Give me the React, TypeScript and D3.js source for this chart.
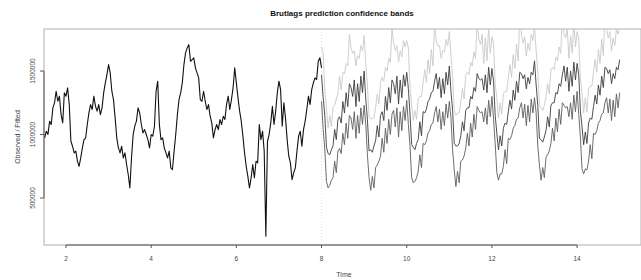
import { useEffect, useRef } from "react";
import * as d3 from "d3";

const title = "Brutlags prediction confidence bands";
const xLabel = "Time";
const yLabel = "Observed / Fitted";
const xTicks = [2, 4, 6, 8, 10, 12, 14];
const yTicks = [500000, 1000000, 1500000];

// samples per time unit, and where each part starts
const freq = 26;
const observedStart = 1.5;
const forecastStart = 8;

// observed series (thousands)
const observedK = [
  974, 1026, 1000, 1105, 1079, 1210, 1249, 1341, 1262, 1302,
  1157, 1092, 1328, 1302, 1367, 1236, 947, 908, 855, 869,
  790, 750, 816, 895, 960, 974, 1079, 1170, 1236, 1197,
  1302, 1223, 1184, 1236, 1157, 1210, 1328, 1407, 1472, 1551,
  1485, 1341, 1275, 1131, 974, 895, 855, 908, 816, 855,
  764, 685, 580, 816, 1000, 1066, 1105, 1210, 1170, 1079, 1013,
  1039, 1000, 960, 895, 1000, 987, 1065, 1341, 1420, 1079,
  960, 974, 895, 855, 816, 869, 737, 724, 869, 1000,
  1157, 1275, 1328, 1407, 1551, 1643, 1682, 1708, 1577, 1590,
  1604, 1525, 1485, 1446, 1275, 1262, 1341, 1262, 1197, 1236,
  1144, 1092, 974, 1039, 1079, 1039, 1118, 1079, 1144, 1118,
  1236, 1302, 1197, 1275, 1367, 1525, 1407, 1289, 1184,
  1105, 987, 855, 750, 672, 580, 659, 764, 659, 790,
  777, 1079, 960, 1026, 869, 199, 947, 1000, 1092, 1223,
  1079, 1184, 1328, 1420, 1354, 1065, 1249, 1131, 960, 829,
  777, 645, 698, 737, 869, 987, 1026, 908, 1039, 1105,
  1197, 1302, 1236, 1354, 1407, 1446, 1433, 1577, 1604, 1525,
];

// fitted / predicted series from t = 8 (thousands), one row per year
const fittedK = [
  1470, 1290, 1150, 900, 850, 840, 880, 910, 1040, 960, 1120, 1140, 1090, 1260, 1170, 1330, 1220, 1400, 1370, 1300, 1430, 1220, 1400, 1260, 1460, 1330,
  1500, 1280, 1120, 870, 880, 860, 910, 950, 1070, 980, 1150, 1180, 1110, 1300, 1190, 1370, 1250, 1430, 1400, 1320, 1460, 1240, 1430, 1290, 1470, 1380,
  1490, 1360, 1160, 920, 900, 880, 930, 960, 1100, 990, 1180, 1170, 1200, 1260, 1280, 1330, 1340, 1420, 1480, 1360, 1450, 1290, 1440, 1320, 1490, 1390,
  1540, 1340, 1190, 930, 910, 910, 930, 990, 1100, 1030, 1190, 1210, 1210, 1300, 1280, 1370, 1340, 1480, 1440, 1430, 1440, 1350, 1470, 1330, 1530, 1390,
  1520, 1420, 1150, 1010, 880, 990, 910, 1050, 1090, 1080, 1180, 1270, 1200, 1350, 1270, 1420, 1330, 1490, 1480, 1440, 1470, 1360, 1450, 1400, 1490, 1470,
  1580, 1390, 1230, 970, 960, 940, 980, 1030, 1140, 1060, 1230, 1250, 1250, 1330, 1320, 1400, 1380, 1470, 1540, 1420, 1530, 1340, 1500, 1380, 1570, 1430,
  1560, 1470, 1190, 1060, 920, 1020, 930, 1090, 1130, 1120, 1220, 1310, 1240, 1390, 1310, 1460, 1370, 1530, 1520, 1480, 1510, 1400, 1480, 1440, 1530, 1510,
  1590,
];

const upperK = [
  1690, 1640, 1350, 1210, 1050, 1150, 1060, 1220, 1230, 1280, 1320, 1460, 1350, 1490, 1480, 1560, 1540, 1790, 1680, 1640, 1660, 1540, 1620, 1600, 1700, 1660,
  1780, 1560, 1390, 1140, 1120, 1130, 1130, 1210, 1320, 1240, 1410, 1450, 1420, 1530, 1500, 1600, 1570, 1830, 1720, 1660, 1700, 1570, 1660, 1610, 1740, 1690,
  1740, 1680, 1380, 1230, 1110, 1190, 1120, 1280, 1300, 1300, 1410, 1510, 1410, 1590, 1480, 1670, 1540, 1870, 1730, 1700, 1700, 1600, 1660, 1650, 1750, 1700,
  1810, 1620, 1460, 1190, 1150, 1170, 1170, 1260, 1360, 1280, 1470, 1490, 1470, 1570, 1540, 1650, 1600, 1900, 1750, 1710, 1790, 1560, 1760, 1580, 1850, 1640,
  1770, 1720, 1400, 1290, 1130, 1250, 1160, 1320, 1340, 1340, 1450, 1550, 1450, 1630, 1520, 1710, 1580, 1920, 1790, 1720, 1770, 1620, 1720, 1660, 1790, 1740,
  1850, 1660, 1500, 1230, 1210, 1190, 1230, 1300, 1400, 1320, 1510, 1530, 1510, 1610, 1580, 1690, 1640, 1950, 1790, 1760, 1830, 1600, 1780, 1640, 1890, 1690,
  1810, 1760, 1440, 1330, 1170, 1290, 1180, 1360, 1380, 1380, 1490, 1590, 1490, 1670, 1560, 1750, 1620, 1970, 1830, 1760, 1810, 1660, 1760, 1700, 1830, 1790,
  1850,
];

const lowerK = [
  1260, 1040, 880, 630, 580, 600, 640, 660, 790, 700, 870, 890, 850, 1010, 920, 1090, 970, 1150, 1130, 1040, 1180, 970, 1150, 1010, 1210, 1080,
  1230, 1080, 840, 660, 560, 670, 580, 740, 760, 790, 830, 970, 860, 1050, 930, 1120, 1000, 1160, 1190, 1060, 1210, 980, 1180, 1030, 1220, 1110,
  1270, 1080, 910, 660, 620, 630, 660, 710, 840, 740, 930, 920, 950, 1010, 1030, 1080, 1090, 1170, 1220, 1100, 1200, 1040, 1180, 1070, 1240, 1130,
  1260, 1130, 880, 720, 590, 710, 620, 790, 800, 830, 890, 1010, 910, 1090, 980, 1160, 1040, 1220, 1190, 1170, 1180, 1100, 1210, 1080, 1270, 1140,
  1300, 1120, 930, 700, 640, 690, 690, 750, 880, 770, 970, 960, 990, 1050, 1070, 1120, 1130, 1210, 1250, 1130, 1240, 1070, 1230, 1100, 1280, 1170,
  1290, 1170, 910, 760, 640, 740, 660, 820, 840, 870, 930, 1050, 950, 1130, 1020, 1200, 1080, 1250, 1230, 1210, 1220, 1140, 1250, 1120, 1310, 1180,
  1340, 1160, 980, 730, 690, 730, 720, 790, 920, 810, 1010, 1000, 1030, 1090, 1110, 1160, 1170, 1250, 1290, 1170, 1280, 1110, 1270, 1140, 1320, 1210,
  1330,
];

const toPoints = (vals: number[], start: number) =>
  vals.map((v, i) => ({ t: start + i / freq, v: v * 1000 }));

export default function App() {
  const svgRef = useRef<SVGSVGElement>(null);

  useEffect(() => {
    if (!svgRef.current) return;
    const svg = d3.select(svgRef.current);
    svg.selectAll("*").remove();

    const box = { left: 44, right: 641, top: 29, bottom: 245 };
    const font = "'Liberation Sans', Arial, sans-serif";

    const x = d3.scaleLinear().domain([1.484, 15.5]).range([box.left, box.right]);
    const y = d3.scaleLinear().domain([130000, 1831000]).range([box.bottom, box.top]);

    svg.append("defs").append("clipPath").attr("id", "plotclip")
      .append("rect")
      .attr("x", box.left).attr("y", box.top)
      .attr("width", box.right - box.left).attr("height", box.bottom - box.top);

    // plot frame
    svg.append("rect")
      .attr("x", box.left).attr("y", box.top)
      .attr("width", box.right - box.left).attr("height", box.bottom - box.top)
      .attr("fill", "none").attr("stroke", "#b0b0b0").attr("stroke-width", 1);

    // start of prediction
    svg.append("line")
      .attr("x1", x(forecastStart)).attr("x2", x(forecastStart))
      .attr("y1", box.top).attr("y2", box.bottom)
      .attr("stroke", "#e2e2e2").attr("stroke-dasharray", "1,2");

    const line = d3.line<{ t: number; v: number }>()
      .x(d => x(d.t))
      .y(d => y(d.v));

    const g = svg.append("g").attr("clip-path", "url(#plotclip)");
    const series = [
      { data: toPoints(upperK, forecastStart), color: "#cacaca", w: 0.9 },
      { data: toPoints(lowerK, forecastStart), color: "#5e5e5e", w: 0.9 },
      { data: toPoints(fittedK, forecastStart), color: "#3c3c3c", w: 0.9 },
      { data: toPoints(observedK, observedStart), color: "#111", w: 1.1 },
    ];
    series.forEach(s => {
      g.append("path")
        .attr("d", line(s.data))
        .attr("fill", "none")
        .attr("stroke", s.color)
        .attr("stroke-width", s.w)
        .attr("stroke-linejoin", "round");
    });

    // x axis
    const xa = svg.append("g");
    xa.append("line")
      .attr("x1", x(xTicks[0])).attr("x2", x(xTicks[xTicks.length - 1]))
      .attr("y1", box.bottom).attr("y2", box.bottom)
      .attr("stroke", "#555");
    xTicks.forEach(t => {
      xa.append("line")
        .attr("x1", x(t)).attr("x2", x(t))
        .attr("y1", box.bottom).attr("y2", box.bottom + 3)
        .attr("stroke", "#555");
      xa.append("text")
        .attr("x", x(t)).attr("y", 261)
        .attr("text-anchor", "middle")
        .attr("font-family", font).attr("font-size", 6.5)
        .attr("fill", "#444")
        .text(t);
    });

    // y axis
    const ya = svg.append("g");
    ya.append("line")
      .attr("x1", box.left).attr("x2", box.left)
      .attr("y1", y(yTicks[0])).attr("y2", y(yTicks[yTicks.length - 1]))
      .attr("stroke", "#555");
    yTicks.forEach(v => {
      ya.append("line")
        .attr("x1", box.left - 4).attr("x2", box.left)
        .attr("y1", y(v)).attr("y2", y(v))
        .attr("stroke", "#555");
      ya.append("text")
        .attr("transform", `translate(35,${y(v)}) rotate(-90)`)
        .attr("text-anchor", "middle")
        .attr("font-family", font).attr("font-size", 6.5)
        .attr("fill", "#444")
        .text(String(v));
    });

    // labels
    svg.append("text")
      .attr("x", 342).attr("y", 16)
      .attr("text-anchor", "middle")
      .attr("font-family", font).attr("font-size", 8)
      .attr("font-weight", "bold")
      .attr("fill", "#111")
      .text(title);

    svg.append("text")
      .attr("x", 344).attr("y", 277)
      .attr("text-anchor", "middle")
      .attr("font-family", font).attr("font-size", 7)
      .attr("fill", "#444")
      .text(xLabel);

    svg.append("text")
      .attr("transform", `translate(20,${(box.top + box.bottom) / 2}) rotate(-90)`)
      .attr("text-anchor", "middle")
      .attr("font-family", font).attr("font-size", 7)
      .attr("fill", "#444")
      .text(yLabel);
  }, []);

  return (
    <svg
      ref={svgRef}
      width={641}
      height={280}
      style={{ position: "absolute", left: 0, top: 0, background: "#fff" }}
    />
  );
}
